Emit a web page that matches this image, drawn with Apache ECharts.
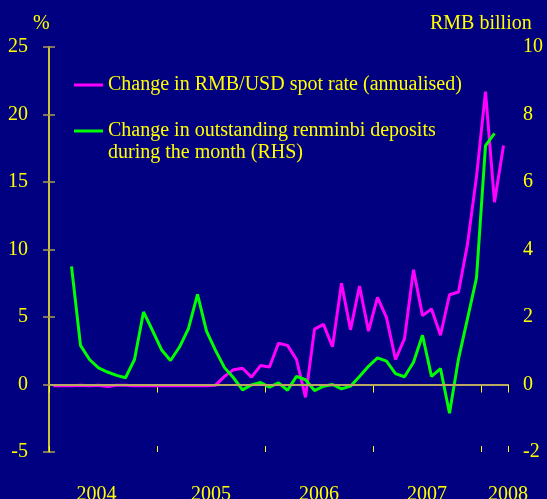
<!DOCTYPE html>
<html>
<head>
<meta charset="utf-8">
<script src="https://cdn.jsdelivr.net/npm/echarts@6/dist/echarts.min.js"></script>
<style>
  html, body { margin: 0; padding: 0; background: #000080; }
  #chart { width: 547px; height: 499px; }
</style>
</head>
<body>
<div id="chart"></div>
<script>
// months Jan 2004 .. Mar 2008
const startYear = 2004;
const monthCount = 51;
const yearLabels = ["2004", "2005", "2006", "2007", "2008"];
const axisNames = ["%", "RMB billion"];

const seriesNames = [
  "Change in RMB/USD spot rate (annualised)",
  "Change in outstanding renminbi deposits\nduring the month (RHS)"
];

// % (left axis)
const spotRate = [
  -0.1, -0.1, -0.1, -0.05, -0.1, -0.05, -0.15, -0.05, -0.05, -0.1,
  -0.1, -0.1, -0.1, -0.1, -0.1, -0.1, -0.1, -0.1, -0.05, 0.6,
  1.1, 1.2, 0.55, 1.4, 1.3, 3.05, 2.9, 1.85, -0.95, 4.1,
  4.45, 2.8, 7.5, 4.05, 7.3, 3.95, 6.45, 4.95, 1.85, 3.4,
  8.5, 5.1, 5.6, 3.65, 6.65, 6.85, 10.4, 15.4, 21.7, 13.5,
  17.7
];

// RMB billion (right axis)
const deposits = [
  null, null, 3.5, 1.16, 0.74, 0.49, 0.37, 0.27, 0.2, 0.74,
  2.15, 1.6, 1.03, 0.71, 1.11, 1.66, 2.67, 1.58, 1.01, 0.5,
  0.2, -0.16, -0.01, 0.06, -0.08, 0.05, -0.17, 0.24, 0.14, -0.18,
  -0.05, 0.0, -0.13, -0.05, 0.24, 0.54, 0.79, 0.69, 0.32, 0.23,
  0.66, 1.46, 0.24, 0.47, -0.85, 0.76, 1.95, 3.16, 7.08, 7.44,
  null
];

const months = [];
for (let i = 0; i < monthCount; i++) {
  const y = startYear + Math.floor(i / 12);
  const m = (i % 12) + 1;
  months.push(y + "-" + (m < 10 ? "0" + m : m));
}

const yellow = "#ffff00";
const axisCol = "#d8d030";
const tickCol = "#a89c50";
const font = "Liberation Serif";
const txt = { color: yellow, fontSize: 20, fontFamily: font, fontWeight: "normal" };

let chart = echarts.init(document.getElementById("chart"));

let option = {
  backgroundColor: "#000080",
  animation: false,
  textStyle: { fontFamily: font },
  title: [
    { text: axisNames[0], left: 33, top: 14, padding: 0, textStyle: txt },
    { text: axisNames[1], left: 430, top: 14, padding: 0, textStyle: txt }
  ],
  grid: { left: 49, right: 39, top: 47, bottom: 47, containLabel: false, outerBoundsMode: "none" },
  legend: [
    {
      left: 74, top: 75, padding: 0,
      itemWidth: 29, itemHeight: 3, icon: "rect",
      data: [seriesNames[0]],
      textStyle: { color: yellow, fontSize: 20, fontFamily: font }
    },
    {
      left: 74, top: 98, padding: 0,
      itemWidth: 29, itemHeight: 3, icon: "rect",
      data: [seriesNames[1]],
      formatter: function (name) { return "\n" + name; },
      textStyle: { color: yellow, fontSize: 20, fontFamily: font, lineHeight: 22 }
    }
  ],
  xAxis: [
    {
      // monthly minor ticks, data axis
      type: "category",
      position: "bottom",
      data: months,
      boundaryGap: true,
      axisLine: { lineStyle: { color: yellow, width: 1.5 } },
      axisTick: { interval: 0, length: 5, lineStyle: { color: yellow } },
      axisLabel: { show: false }
    },
    {
      // year boundary ticks (outside)
      type: "value",
      position: "bottom",
      min: 0, max: monthCount, interval: 12,
      axisLine: { show: false },
      axisTick: { length: 8, lineStyle: { color: yellow } },
      axisLabel: { show: false },
      splitLine: { show: false }
    },
    {
      // year boundary ticks (inside)
      type: "value",
      position: "bottom",
      min: 0, max: monthCount, interval: 12,
      axisLine: { show: false },
      axisTick: { inside: true, length: 6, lineStyle: { color: yellow } },
      axisLabel: { show: false },
      splitLine: { show: false }
    },
    {
      // year labels
      type: "value",
      position: "bottom",
      min: 0, max: monthCount, interval: 6,
      axisLine: { show: false },
      axisTick: { show: false },
      splitLine: { show: false },
      axisLabel: {
        margin: 33,
        color: yellow,
        fontSize: 20,
        fontFamily: font,
        formatter: function (v) {
          if (v === monthCount) return yearLabels[yearLabels.length - 1];
          if (v % 12 === 6) {
            const s = yearLabels[(v - 6) / 12];
            return v === 6 ? "{a|" + s + "}" : s;
          }
          return "";
        },
        rich: { a: { color: yellow, fontSize: 20, fontFamily: font, padding: [0, 13, 0, 0] } }
      }
    }
  ],
  yAxis: [
    {
      type: "value",
      position: "left",
      min: -5, max: 25, interval: 5,
      axisLine: { show: true, lineStyle: { color: axisCol, width: 1.5 } },
      axisTick: { show: true, inside: true, length: 6, lineStyle: { color: tickCol, width: 1.5 } },
      axisLabel: { margin: 21, color: yellow, fontSize: 20, fontFamily: font },
      splitLine: { show: false }
    },
    {
      type: "value",
      position: "right",
      min: -2, max: 10, interval: 2,
      axisLine: { show: true, lineStyle: { color: axisCol, width: 1.5 } },
      axisTick: { show: true, inside: true, length: 6, lineStyle: { color: tickCol, width: 1.5 } },
      axisLabel: { margin: 15, color: yellow, fontSize: 20, fontFamily: font },
      splitLine: { show: false }
    }
  ],
  series: [
    {
      name: seriesNames[0],
      type: "line",
      xAxisIndex: 0,
      yAxisIndex: 0,
      data: spotRate,
      symbol: "none",
      color: "#ff00ff",
      lineStyle: { width: 3, color: "#ff00ff" }
    },
    {
      name: seriesNames[1],
      type: "line",
      xAxisIndex: 0,
      yAxisIndex: 1,
      data: deposits,
      symbol: "none",
      color: "#00ff00",
      lineStyle: { width: 3, color: "#00ff00" },
      markLine: {
        silent: true,
        symbol: "none",
        label: { show: false },
        lineStyle: { color: "#b8a860", type: "solid", width: 2 },
        data: [{ yAxis: 0 }]
      }
    }
  ]
};
chart.setOption(option);
</script>
</body>
</html>
